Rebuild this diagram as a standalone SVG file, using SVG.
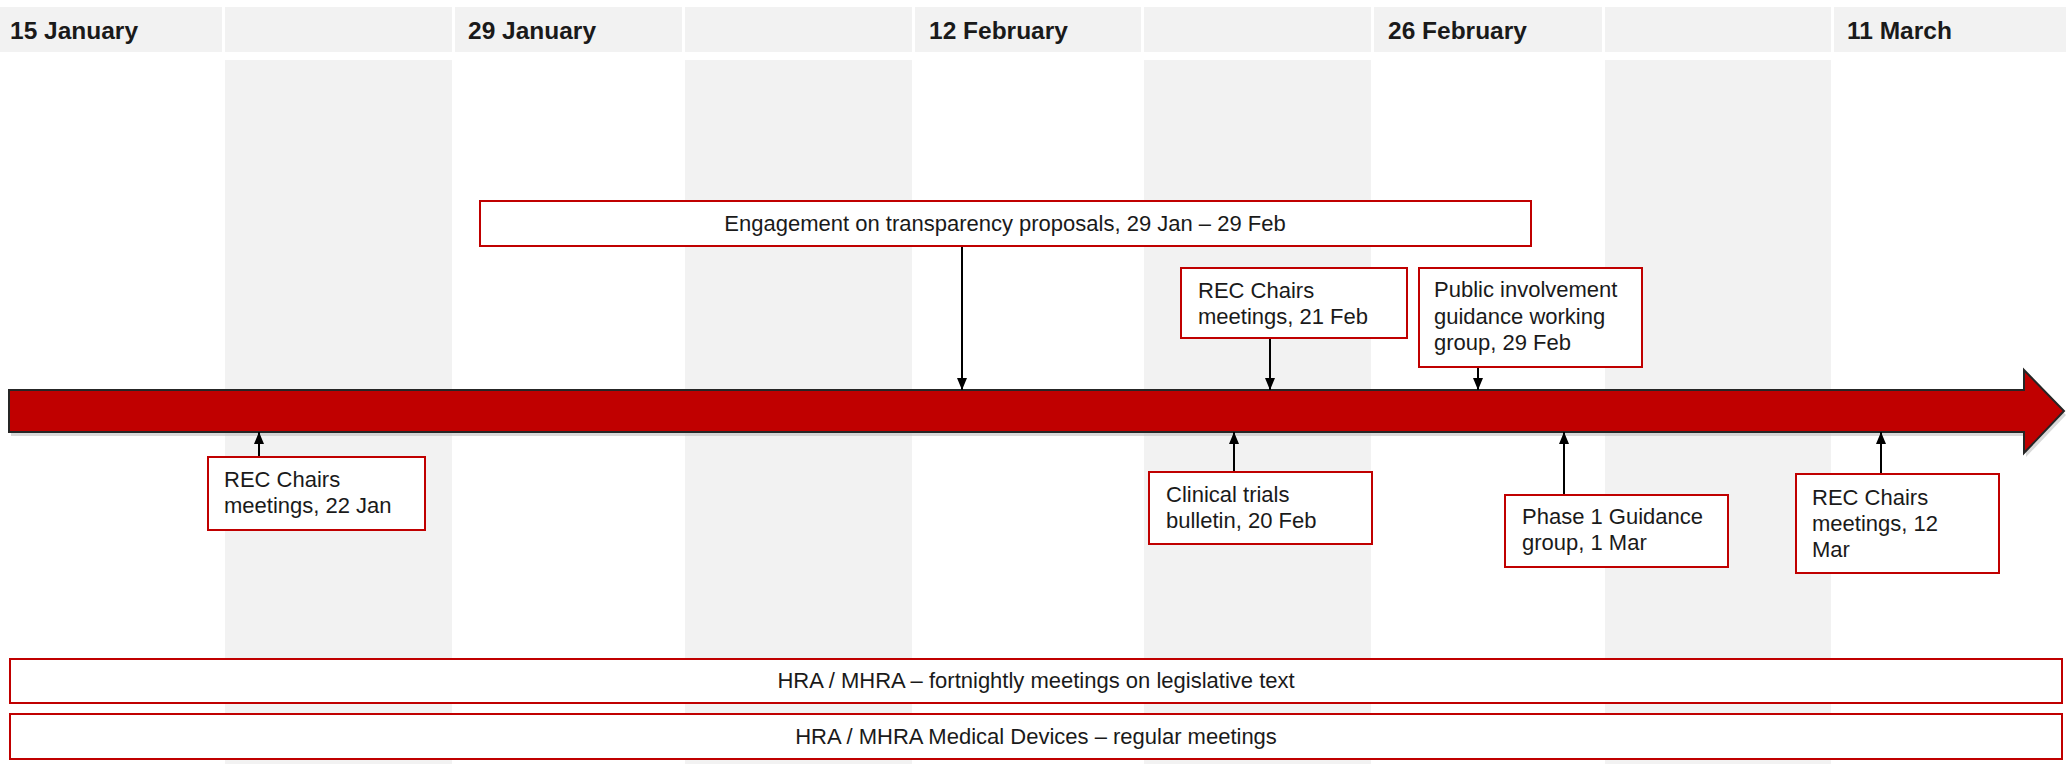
<svg xmlns="http://www.w3.org/2000/svg" width="2066" height="764" viewBox="0 0 2066 764">
<style>
.hdr{fill:#f2f2f2}
.stripe{fill:#f2f2f2}
.ht{font-family:"Liberation Sans",Arial,sans-serif;font-weight:bold;font-size:24.5px;fill:#1a1a1a}
.box{fill:#ffffff;stroke:#c00000;stroke-width:2}
.t{font-family:"Liberation Sans",Arial,sans-serif;font-size:22px;fill:#1a1a1a}
.tc{font-family:"Liberation Sans",Arial,sans-serif;font-size:22px;fill:#1a1a1a;text-anchor:middle}
.conn{stroke:#000;stroke-width:2;fill:none;marker-end:url(#ah)}
</style>
<defs>
<marker id="ah" viewBox="0 0 12 10" refX="12" refY="5" markerUnits="userSpaceOnUse" markerWidth="12" markerHeight="10" orient="auto">
<path d="M0,0 L12,5 L0,10 z" fill="#000"/>
</marker>
</defs>
<rect width="2066" height="764" fill="#ffffff"/>
<g id="header">
<rect class="hdr" x="0" y="7" width="222" height="45"/>
<rect class="hdr" x="225" y="7" width="227" height="45"/>
<rect class="hdr" x="455" y="7" width="227" height="45"/>
<rect class="hdr" x="685" y="7" width="227" height="45"/>
<rect class="hdr" x="915" y="7" width="226" height="45"/>
<rect class="hdr" x="1144" y="7" width="227" height="45"/>
<rect class="hdr" x="1374" y="7" width="228" height="45"/>
<rect class="hdr" x="1605" y="7" width="226" height="45"/>
<rect class="hdr" x="1834" y="7" width="232" height="45"/>
<text class="ht" x="10" y="39">15 January</text>
<text class="ht" x="468" y="39">29 January</text>
<text class="ht" x="929" y="39">12 February</text>
<text class="ht" x="1388" y="39">26 February</text>
<text class="ht" x="1847" y="39">11 March</text>
</g>
<g id="stripes">
<rect class="stripe" x="225" y="60" width="227" height="704"/>
<rect class="stripe" x="685" y="60" width="227" height="704"/>
<rect class="stripe" x="1144" y="60" width="227" height="704"/>
<rect class="stripe" x="1605" y="60" width="226" height="704"/>
</g>
<g id="timeline">
<polygon points="11,394 2026,394 2026,374 2066,415 2026,457 2026,436 11,436" fill="#bfbfbf" opacity="0.6"/>
<polygon points="9,390 2024,390 2024,370 2064,411 2024,453 2024,432 9,432" fill="#c00000" stroke="#262626" stroke-width="2"/>
</g>
<g id="connectors">
<line class="conn" x1="962" y1="247" x2="962" y2="390"/>
<line class="conn" x1="1270" y1="339" x2="1270" y2="390"/>
<line class="conn" x1="1478" y1="368" x2="1478" y2="390"/>
<line class="conn" x1="259" y1="457" x2="259" y2="432"/>
<line class="conn" x1="1234" y1="472" x2="1234" y2="432"/>
<line class="conn" x1="1564" y1="495" x2="1564" y2="432"/>
<line class="conn" x1="1881" y1="474" x2="1881" y2="432"/>
</g>
<g id="engagement">
<rect class="box" x="480" y="201" width="1051" height="45"/>
<text class="tc" x="1005" y="231">Engagement on transparency proposals, 29 Jan – 29 Feb</text>
</g>
<g id="rec21feb">
<rect class="box" x="1181" y="268" width="226" height="70"/>
<text class="t" x="1198" y="298">REC Chairs</text>
<text class="t" x="1198" y="324">meetings, 21 Feb</text>
</g>
<g id="public">
<rect class="box" x="1419" y="268" width="223" height="99"/>
<text class="t" x="1434" y="297">Public involvement</text>
<text class="t" x="1434" y="324">guidance working</text>
<text class="t" x="1434" y="350">group, 29 Feb</text>
</g>
<g id="rec22jan">
<rect class="box" x="208" y="457" width="217" height="73"/>
<text class="t" x="224" y="487">REC Chairs</text>
<text class="t" x="224" y="513">meetings, 22 Jan</text>
</g>
<g id="clinical">
<rect class="box" x="1149" y="472" width="223" height="72"/>
<text class="t" x="1166" y="502">Clinical trials</text>
<text class="t" x="1166" y="528">bulletin, 20 Feb</text>
</g>
<g id="phase1">
<rect class="box" x="1505" y="495" width="223" height="72"/>
<text class="t" x="1522" y="524">Phase 1 Guidance</text>
<text class="t" x="1522" y="550">group, 1 Mar</text>
</g>
<g id="rec12mar">
<rect class="box" x="1796" y="474" width="203" height="99"/>
<text class="t" x="1812" y="505">REC Chairs</text>
<text class="t" x="1812" y="531">meetings, 12</text>
<text class="t" x="1812" y="557">Mar</text>
</g>
<g id="hra-legislative">
<rect class="box" x="10" y="659" width="2052" height="44"/>
<text class="tc" x="1036" y="688">HRA / MHRA – fortnightly meetings on legislative text</text>
</g>
<g id="hra-devices">
<rect class="box" x="10" y="714" width="2052" height="45"/>
<text class="tc" x="1036" y="744">HRA / MHRA Medical Devices – regular meetings</text>
</g>
</svg>
